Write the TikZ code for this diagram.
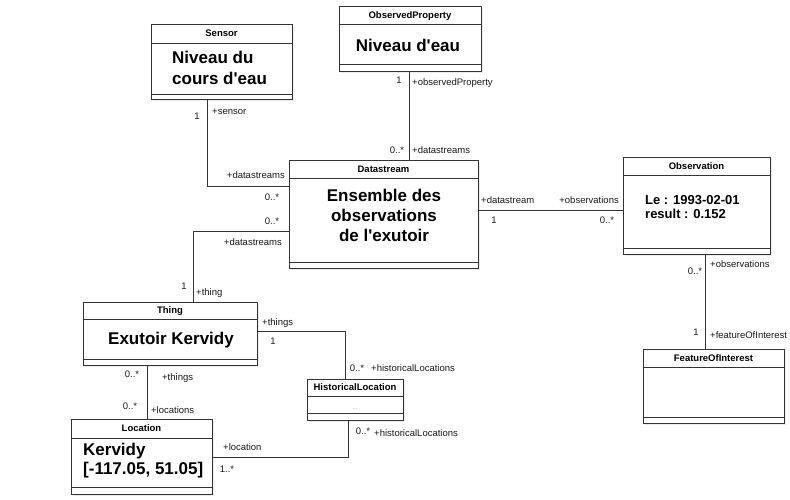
\documentclass[tikz,border=0pt]{standalone}
\usepackage{fontspec}
\setmainfont{Liberation Sans}[Ligatures=TeXOff]
\usetikzlibrary{calc,shadows}
\newcommand\uclass[8]{% name, x1, y1, x2, y2, header line y, compartment line y, title
  \node[classbox, minimum width={(#4-#2)*1pt}, minimum height={(#5-#3)*1pt}] (#1) at ({(#2+#4)/2},{(#3+#5)/2}) {};
  \draw[sepline] (#2,#6) -- (#4,#6);
  \draw[sepline] (#2,#7) -- (#4,#7);
  \node[hdr] (#1-title) at ({(#2+#4)/2},{(#3+#6)/2+0.8}) {#8};
}
\begin{document}
\begin{tikzpicture}[x=1pt,y=-1pt,
  classbox/.style={draw=black!80, line width=0.9pt, fill=white, inner sep=0pt, outer sep=0pt,
    drop shadow={shadow xshift=2pt, shadow yshift=-2pt, opacity=0.15}},
  sepline/.style={draw=black!80, line width=0.9pt},
  conn/.style={draw=black!80, line width=0.9pt},
  hdr/.style={font=\fontsize{9.5}{11}\selectfont\bfseries, inner sep=0pt, text height=7pt, text depth=2pt},
  big/.style={font=\fontsize{17}{20}\selectfont\bfseries, inner sep=0pt},
  mid/.style={font=\fontsize{13}{15}\selectfont\bfseries, inner sep=0pt},
  lbl/.style={font=\fontsize{9.5}{11}\selectfont, inner sep=0pt, text height=7pt, text depth=2pt, text=black!90},
]
\fill[white] (0,0) rectangle (790,500);
\useasboundingbox (0,0) rectangle (790,500);

% classes
\uclass{sensor}{151}{24}{292}{99}{43}{94}{Sensor}
\uclass{op}{339}{6}{481}{71}{24}{64}{ObservedProperty}
\uclass{ds}{289}{160}{478}{268}{178}{262}{Datastream}
\uclass{obs}{623}{157}{770}{254}{175}{248}{Observation}
\uclass{foi}{643}{349}{784}{423}{367}{417}{FeatureOfInterest}
\uclass{thing}{83}{302}{257}{365}{319}{359}{Thing}
\uclass{hl}{307}{379}{403}{420}{396}{413}{HistoricalLocation}
\uclass{loc}{71}{419}{212}{494}{438}{487}{Location}

% bodies
\node[big, anchor=base west] (sensor-b1) at (172,64) {Niveau du};
\node[big, anchor=base west] (sensor-b2) at (172,85) {cours d'eau};
\node[big, anchor=base] (op-b) at (408,52) {Niveau d'eau};
\node[big, anchor=base] (ds-b1) at (384,201) {Ensemble des};
\node[big, anchor=base] (ds-b2) at (384,221) {observations};
\node[big, anchor=base] (ds-b3) at (384,241) {de l'exutoir};
\node[mid, anchor=base west] (obs-b1) at (645,204.5) {Le : 1993-02-01};
\node[mid, anchor=base west] (obs-b2) at (645,218.5) {result : 0.152};
\node[big, anchor=base] (thing-b) at (171,344) {Exutoir Kervidy};
\node[big, anchor=base west] (loc-b1) at (83,455) {Kervidy};
\node[big, anchor=base west] (loc-b2) at (83,474) {[-117.05, 51.05]};
\node[font=\fontsize{6}{7}\selectfont, text=black!40, inner sep=0pt] (hl-b) at (355,409) {...};

% connectors
\draw[conn] ([xshift=-14.5]sensor.south) |- ([yshift=28]ds.west);
\draw[conn] ([xshift=-1]op.south) -- ([xshift=-1]op.south |- ds.north);
\draw[conn] ([yshift=-17]ds.west) -| ([xshift=23]thing.north);
\draw[conn] ([yshift=4]ds.east) -- ([yshift=4]ds.east -| obs.west);
\draw[conn] ([xshift=8.5]obs.south) -- ([xshift=8.5]obs.south |- foi.north);
\draw[conn] ([yshift=2.5]thing.east) -| ([xshift=-10]hl.north);
\draw[conn] ([xshift=-23]thing.south) -- ([xshift=-23]thing.south |- loc.north);
\draw[conn] ([yshift=-0.5]loc.east) -| ([xshift=-7]hl.south);

% labels
\node[lbl] (l1) at (197,117) {1};
\node[lbl, anchor=west] (l2) at (212,112) {+sensor};
\node[lbl, anchor=east] (l3) at (285,176) {+datastreams};
\node[lbl] (l4) at (272,198) {0..*};
\node[lbl] (l5) at (399,81) {1};
\node[lbl, anchor=west] (l6) at (412,83) {+observedProperty};
\node[lbl] (l7) at (397,151) {0..*};
\node[lbl, anchor=west] (l8) at (412,151) {+datastreams};
\node[lbl] (l9) at (272,222) {0..*};
\node[lbl, anchor=east] (l10) at (282,243) {+datastreams};
\node[lbl] (l11) at (184,287) {1};
\node[lbl, anchor=west] (l12) at (196,293) {+thing};
\node[lbl, anchor=west] (l13) at (481,201) {+datastream};
\node[lbl] (l14) at (494,221) {1};
\node[lbl, anchor=east] (l15) at (619,201) {+observations};
\node[lbl] (l16) at (607,221) {0..*};
\node[lbl] (l17) at (695,272) {0..*};
\node[lbl, anchor=west] (l18) at (710,265) {+observations};
\node[lbl] (l19) at (696,333) {1};
\node[lbl, anchor=west] (l20) at (710,336) {+featureOfInterest};
\node[lbl, anchor=west] (l21) at (262,323) {+things};
\node[lbl] (l22) at (273,342) {1};
\node[lbl] (l23) at (357,369) {0..*};
\node[lbl, anchor=west] (l24) at (371,369) {+historicalLocations};
\node[lbl] (l25) at (132,375) {0..*};
\node[lbl, anchor=west] (l26) at (162,378) {+things};
\node[lbl] (l27) at (130,407) {0..*};
\node[lbl, anchor=west] (l28) at (151,411) {+locations};
\node[lbl] (l29) at (363,432) {0..*};
\node[lbl, anchor=west] (l30) at (374,434) {+historicalLocations};
\node[lbl, anchor=west] (l31) at (223,448) {+location};
\node[lbl] (l32) at (227,470) {1..*};
\end{tikzpicture}
\end{document}
